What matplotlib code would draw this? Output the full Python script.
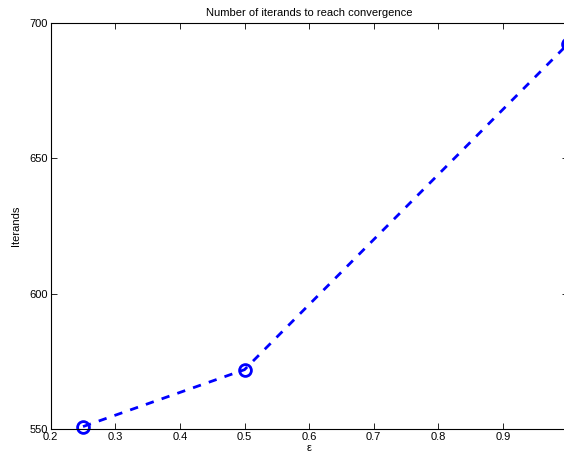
import matplotlib
matplotlib.use("Agg")
import matplotlib.pyplot as plt

# iterations needed to converge for each epsilon
epsilon = [0.25, 0.5, 1.0]
iterands = [551, 572, 692]

xticks = [0.2, 0.3, 0.4, 0.5, 0.6, 0.7, 0.8, 0.9]
yticks = [550, 600, 650, 700]

plt.rcParams["font.family"] = ["Liberation Sans", "DejaVu Sans"]

fig = plt.figure(figsize=(5.64, 4.62), dpi=100)
W, H = 564, 462
left, right, top, bottom = 50.7, 567.5, 22.7, 429.3
ax = fig.add_axes([left / W, 1 - bottom / H, (right - left) / W, (bottom - top) / H])

ax.plot(epsilon, iterands, linestyle="--", color="#0000ff", linewidth=2,
        dashes=(3, 3), marker="o", markersize=8.5, markerfacecolor="none",
        markeredgewidth=2, clip_on=False)

ax.set_xlim(0.2, 1.0)
ax.set_ylim(550, 700)
ax.set_xticks(xticks)
ax.set_xticklabels([f"{t:.1f}" for t in xticks])
ax.set_yticks(yticks)
ax.tick_params(direction="in", top=True, right=True, length=4, width=0.6,
               labelsize=8, pad=2)
for s in ax.spines.values():
    s.set_linewidth(0.8)

ax.set_title("Number of iterands to reach convergence", fontsize=8, pad=5)
ax.set_xlabel("ε", fontsize=8, labelpad=1)
ax.set_ylabel("Iterands", fontsize=8, labelpad=6)

fig.savefig("out.png", dpi=100)
